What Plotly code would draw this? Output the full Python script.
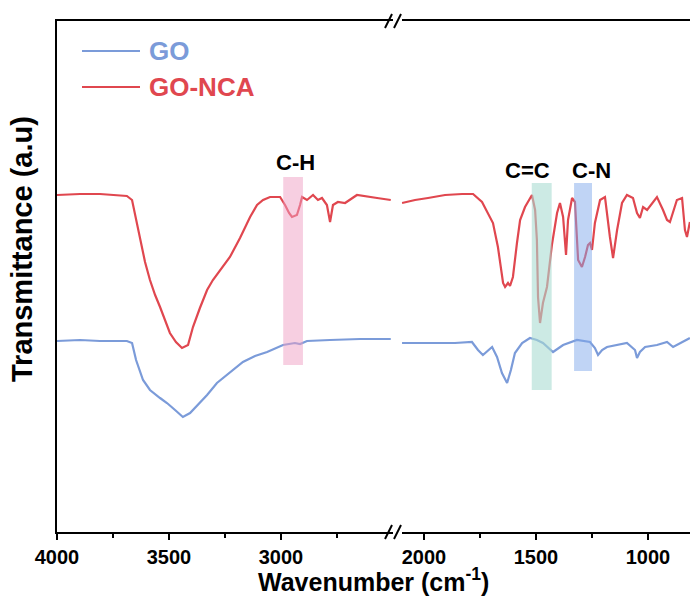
import plotly.graph_objects as go

# ---------------- data (wavenumber in cm^-1, transmittance in a.u.) ----------------
go_left_wn = [4000, 3897, 3808, 3688, 3665, 3647, 3616, 3585, 3540, 3509, 3473, 3438,
              3406, 3362, 3330, 3286, 3241, 3170, 3116, 3062, 2991, 2938, 2915, 2884,
              2781, 2647, 2510]
go_left_t = [191, 192, 191, 191, 189, 172, 152, 142, 134, 129, 122, 115,
             119, 129, 137, 149, 157, 170, 176, 180, 187, 189, 188, 191,
             192, 193, 193]

nca_left_wn = [4000, 3897, 3808, 3719, 3688, 3665, 3647, 3629, 3607, 3585, 3562, 3540,
               3518, 3496, 3469, 3442, 3415, 3393, 3362, 3330, 3304, 3272, 3228, 3183,
               3138, 3107, 3080, 3049, 3004, 2982, 2964, 2951, 2929, 2915, 2906, 2884,
               2857, 2835, 2817, 2795, 2781, 2768, 2746, 2714, 2661, 2571, 2510]
nca_left_t = [337, 338, 338, 337, 336, 332, 312, 292, 270, 252, 237, 225,
              212, 199, 190, 184, 187, 205, 224, 242, 252, 262, 275, 294,
              315, 327, 332, 335, 335, 327, 319, 315, 317, 327, 335, 332,
              337, 332, 334, 327, 310, 327, 330, 329, 337, 334, 332]

go_right_wn = [2098, 1973, 1862, 1786, 1759, 1737, 1714, 1696, 1674, 1652, 1629, 1612,
               1594, 1562, 1527, 1496, 1469, 1424, 1379, 1317, 1259, 1237, 1223, 1205,
               1183, 1094, 1058, 1049, 1036, 1013, 960, 915, 888, 844, 813]
go_right_t = [189, 189, 189, 190, 182, 177, 182, 185, 175, 159, 149, 162,
              179, 189, 194, 192, 189, 180, 187, 192, 190, 184, 177, 182,
              185, 189, 182, 174, 180, 185, 187, 190, 185, 190, 194]

nca_right_wn = [2098, 2040, 1982, 1906, 1830, 1781, 1741, 1714, 1692, 1670, 1647, 1638,
                1625, 1616, 1603, 1585, 1571, 1549, 1518, 1504, 1496, 1491, 1482, 1469,
                1451, 1429, 1406, 1393, 1379, 1366, 1357, 1339, 1326, 1312, 1295, 1281,
                1268, 1259, 1250, 1237, 1214, 1192, 1179, 1170, 1156, 1138, 1116, 1094,
                1067, 1049, 1036, 1022, 1004, 978, 960, 933, 915, 902, 871, 848,
                835, 826, 813]
nca_right_t = [329, 332, 334, 337, 338, 338, 330, 319, 309, 285, 249, 245,
               249, 246, 255, 289, 312, 325, 337, 322, 292, 235, 209, 229,
               245, 287, 319, 329, 315, 277, 312, 334, 330, 272, 265, 275,
               287, 289, 282, 309, 332, 335, 309, 295, 274, 302, 329, 337,
               334, 319, 314, 325, 322, 329, 335, 322, 312, 310, 332, 334,
               302, 295, 310]

band_labels = ["C-H", "C=C", "C-N"]
band_lo = [2902, 1430, 1250]
band_hi = [2990, 1519, 1330]
band_bottom = [167, 142, 161]
band_top = [355, 349, 349]
band_axis = ["x", "x2", "x2"]
band_colors = ["rgba(240,160,195,0.5)", "rgba(170,220,210,0.6)", "rgba(130,170,235,0.5)"]
label_x = [2937, 1540, 1254]
label_y = [370, 362, 362]

left_ticks = [4000, 3500, 3000]
left_minor = [3750, 3250, 2750]
right_ticks = [2000, 1500, 1000]
right_minor = [1750, 1250]

series_names = ["GO", "GO-NCA"]
blue = "#7B9BD9"
red = "#E0474F"
FONT = "Liberation Sans, Arial, sans-serif"

# ---------------- figure ----------------
W, H = 690, 603
ML, MR, MT, MB = 57, 0, 21, 71
PW = W - ML - MR
PH = H - MT - MB


def px(xp):
    return (xp - ML) / PW


def py(yp):
    return (H - MB - yp) / PH


fig = go.Figure()
lw = 2.2
fig.add_trace(go.Scatter(x=go_left_wn, y=go_left_t, mode="lines", line=dict(color=blue, width=lw),
                         xaxis="x", yaxis="y", showlegend=False))
fig.add_trace(go.Scatter(x=nca_left_wn, y=nca_left_t, mode="lines", line=dict(color=red, width=lw),
                         xaxis="x", yaxis="y", showlegend=False))
fig.add_trace(go.Scatter(x=go_right_wn, y=go_right_t, mode="lines", line=dict(color=blue, width=lw),
                         xaxis="x2", yaxis="y2", showlegend=False))
fig.add_trace(go.Scatter(x=nca_right_wn, y=nca_right_t, mode="lines", line=dict(color=red, width=lw),
                         xaxis="x2", yaxis="y2", showlegend=False))

tickfont = dict(family=FONT, size=20, color="black", weight="bold")
common_x = dict(showline=True, linecolor="black", linewidth=2, mirror=True, ticks="outside",
                ticklen=6, tickwidth=2, tickcolor="black", showgrid=False, zeroline=False,
                tickfont=tickfont)

fig.update_layout(
    width=W, height=H,
    margin=dict(l=ML, r=MR, t=MT, b=MB),
    plot_bgcolor="white", paper_bgcolor="white",
    showlegend=False,
    xaxis=dict(domain=[0, px(393)], range=[4000, 2500], tickmode="array", tickvals=left_ticks,
               minor=dict(tickmode="array", tickvals=left_minor, ticks="outside", ticklen=4,
                          tickwidth=2, tickcolor="black"),
               anchor="y", **common_x),
    xaxis2=dict(domain=[px(401.6), 1], range=[2100, 2100 - (W - 401.6) / 0.224], tickmode="array",
                tickvals=right_ticks,
                minor=dict(tickmode="array", tickvals=right_minor, ticks="outside", ticklen=4,
                           tickwidth=2, tickcolor="black"),
                anchor="y2", **common_x),
    yaxis=dict(domain=[0, 1], range=[0, PH], showline=True, linecolor="black", linewidth=2,
               showticklabels=False, ticks="", showgrid=False, zeroline=False, anchor="x"),
    yaxis2=dict(domain=[0, 1], range=[0, PH], showline=False, showticklabels=False, ticks="",
                showgrid=False, zeroline=False, anchor="x2", matches="y"),
)

# highlight bands and labels
for lab, lo, hi, yb, yt, ax, col, lx, ly in zip(band_labels, band_lo, band_hi, band_bottom,
                                                band_top, band_axis, band_colors, label_x, label_y):
    yref = "y" if ax == "x" else "y2"
    fig.add_shape(type="rect", xref=ax, yref=yref, x0=lo, x1=hi, y0=yb, y1=yt,
                  fillcolor=col, line=dict(width=0), layer="above")
    fig.add_annotation(x=lx, y=ly, xref=ax, yref=yref, text=lab,
                       showarrow=False, font=dict(family=FONT, size=22, color="black", weight="bold"),
                       yanchor="middle")

# axis break marks
for yb in (21, 532):
    for x0 in (385, 394):
        fig.add_shape(type="line", xref="paper", yref="paper",
                      x0=px(x0), y0=py(yb + 7), x1=px(x0 + 7), y1=py(yb - 7),
                      line=dict(color="black", width=2))

# legend (drawn manually so text colors match line colors)
for name, col, yl in zip(series_names, [blue, red], [51, 87]):
    fig.add_shape(type="line", xref="paper", yref="paper", x0=px(82), x1=px(140),
                  y0=py(yl), y1=py(yl), line=dict(color=col, width=2.2))
    fig.add_annotation(xref="paper", yref="paper", x=px(147), y=py(yl), text=name,
                       showarrow=False, xanchor="left", yanchor="middle",
                       font=dict(family=FONT, size=26, color=col, weight="bold"))

# axis titles
fig.add_annotation(xref="paper", yref="paper", x=px(373), y=py(580),
                   text="Wavenumber (cm<sup>-1</sup>)", showarrow=False,
                   xanchor="center", yanchor="middle",
                   font=dict(family=FONT, size=25, color="black", weight="bold"))
fig.add_annotation(xref="paper", yref="paper", x=px(22), y=py(249),
                   text="Transmittance (a.u)", showarrow=False, textangle=-90,
                   xanchor="center", yanchor="middle",
                   font=dict(family=FONT, size=29, color="black", weight="bold"))

fig.write_html("out.html")
